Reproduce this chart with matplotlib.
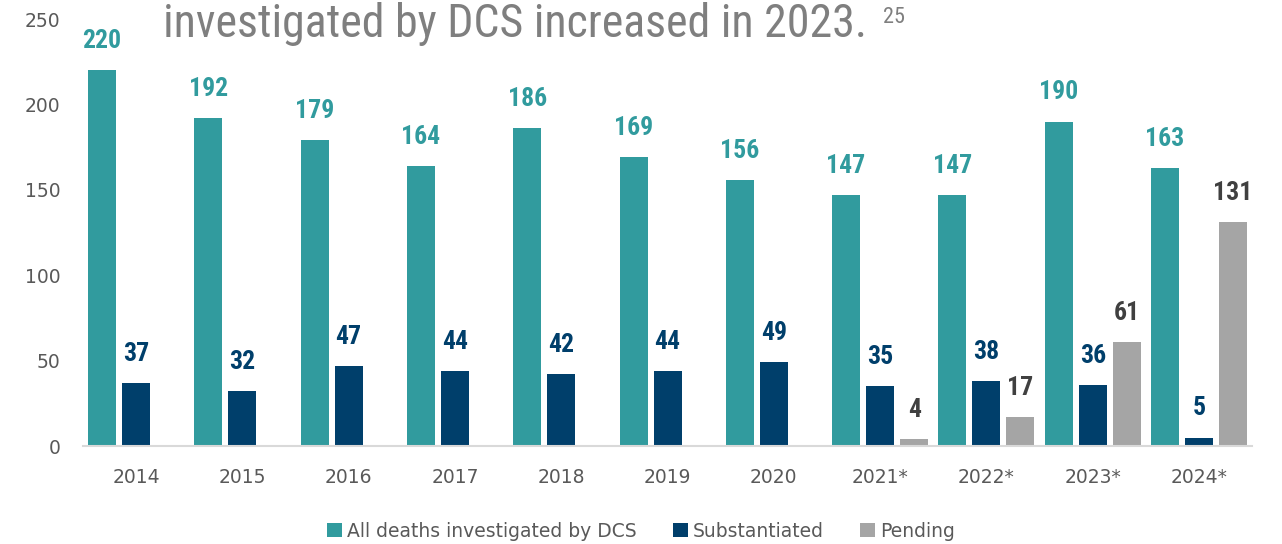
import numpy as np
import matplotlib
matplotlib.use('Agg')
import matplotlib.pyplot as plt
from matplotlib import font_manager

years = ['2014', '2015', '2016', '2017', '2018', '2019', '2020',
         '2021*', '2022*', '2023*', '2024*']
all_deaths = [220, 192, 179, 164, 186, 169, 156, 147, 147, 190, 163]
substantiated = [37, 32, 47, 44, 42, 44, 49, 35, 38, 36, 5]
pending = [None, None, None, None, None, None, None, 4, 17, 61, 131]

series_names = ['All deaths investigated by DCS', 'Substantiated', 'Pending']
colors = ['#319b9e', '#003f6b', '#a5a5a5']
label_colors = ['#319b9e', '#003f6b', '#404040']


def pick_font(names):
    for n in names:
        try:
            font_manager.findfont(n, fallback_to_default=False)
            return n
        except Exception:
            pass
    return 'DejaVu Sans'


narrow = pick_font(['Liberation Sans Narrow', 'DejaVu Sans Condensed', 'Roboto Condensed', 'Roboto'])

fig = plt.figure(figsize=(12.82, 5.44), dpi=100)
ax = fig.add_axes([0.0647, 0.18, 0.912, 0.785])

x = np.arange(len(years))
w = 0.263
step = 0.32
for i, (vals, c, lc) in enumerate(zip([all_deaths, substantiated, pending], colors, label_colors)):
    xs = [xi + (i - 1) * step for xi, v in zip(x, vals) if v is not None]
    vs = [v for v in vals if v is not None]
    ax.bar(xs, vs, width=w, color=c, label=series_names[i], zorder=2)
    for xx, v in zip(xs, vs):
        ax.text(xx, v + 10, str(v), ha='center', va='bottom', color=lc,
                fontsize=18.5, fontweight='bold', family=narrow)

ax.set_xlim(-0.5, len(years) - 0.5)
ax.set_ylim(0, 250)
ax.set_yticks(range(0, 251, 50))
ax.set_xticks(x)
ax.set_xticklabels(years)
for s in ['top', 'right', 'left']:
    ax.spines[s].set_visible(False)
ax.spines['bottom'].set_color('#d9d9d9')
ax.spines['bottom'].set_linewidth(1.5)
ax.tick_params(axis='both', length=0, colors='#595959', labelsize=13.5)
ax.tick_params(axis='x', pad=16)
ax.tick_params(axis='y', pad=16)

fig.legend(loc='lower center', bbox_to_anchor=(0.5, -0.025), ncol=3, frameon=False,
           fontsize=13.5, labelcolor='#595959', handlelength=0.8, handleheight=0.8,
           handletextpad=0.3, columnspacing=1.9)

fig.text(163 / 1282, 1 - 37 / 544, 'investigated by DCS increased in 2023.',
         fontsize=33, color='#7f7f7f', family=narrow, va='baseline')
fig.text(883 / 1282, 1 - 23 / 544, '25', fontsize=16, color='#7f7f7f',
         family=narrow, va='baseline')

fig.savefig('out.png', dpi=100)
